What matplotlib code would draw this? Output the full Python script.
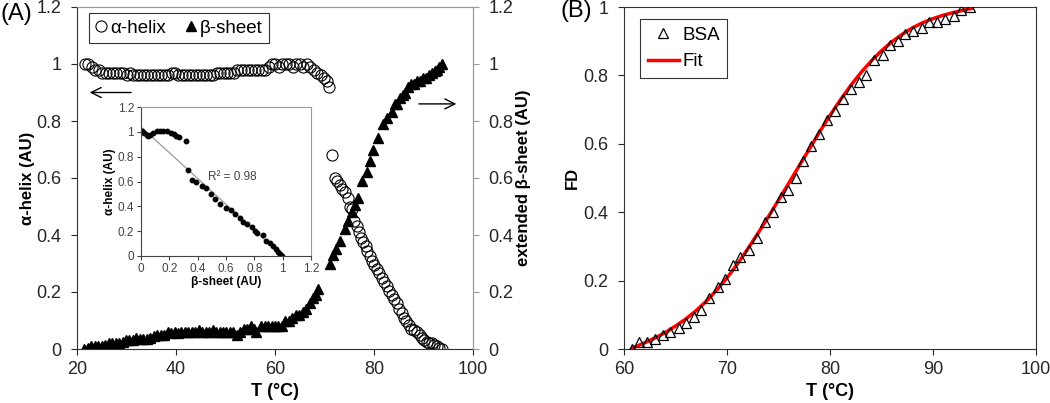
import numpy as np
import matplotlib
matplotlib.use('Agg')
import matplotlib.pyplot as plt

plt.rcParams['font.family'] = ['Liberation Sans', 'DejaVu Sans']

# ---- panel A: alpha-helix (open circles), T in C
helix_t1 = [21.6, 22.3, 23.0, 23.7, 24.4, 25.1, 25.8, 26.5, 27.2, 27.9, 28.6, 29.3, 30.0, 30.7,
            31.4, 32.1, 32.8, 33.5, 34.2, 34.9, 35.6, 36.3, 37.0, 37.7, 38.4, 39.1, 39.8, 40.5,
            41.2, 41.9, 42.6, 43.3, 44.0, 44.7, 45.4, 46.1, 46.8, 47.5, 48.2, 48.9, 49.6, 50.3,
            51.0, 51.7, 52.4, 53.1, 53.8, 54.5, 55.2, 55.9, 56.6, 57.3, 58.0, 58.7, 59.4, 60.1,
            60.8, 61.5, 62.2, 62.9, 63.6, 64.3, 65.0, 65.7, 66.4, 67.1, 67.8, 68.5, 69.2, 69.9,
            70.5, 71.0]
helix_v1 = [1.00, 1.00, 0.99, 0.98, 0.98, 0.97, 0.97, 0.97, 0.97, 0.97, 0.97, 0.97, 0.96, 0.97,
            0.96, 0.96, 0.96, 0.96, 0.96, 0.96, 0.96, 0.96, 0.96, 0.96, 0.96, 0.97, 0.97, 0.96,
            0.96, 0.96, 0.96, 0.96, 0.96, 0.96, 0.96, 0.96, 0.96, 0.96, 0.97, 0.97, 0.97, 0.97,
            0.97, 0.97, 0.98, 0.98, 0.98, 0.98, 0.98, 0.98, 0.98, 0.98, 0.98, 0.99, 1.00, 1.00,
            0.99, 1.00, 1.00, 1.00, 0.99, 1.00, 1.00, 0.99, 1.00, 0.99, 0.98, 0.97, 0.96, 0.95,
            0.94, 0.92]
helix_t2 = [71.5, 72.1, 72.6, 73.1, 73.6, 74.1, 74.7, 75.2, 75.5, 76.0, 76.5, 76.9, 77.4, 77.8,
            78.3, 78.6, 79.1, 79.6, 80.1, 80.6, 81.1, 81.6, 82.1, 82.6, 83.1, 83.6, 84.1, 84.6,
            85.1, 85.6, 86.0, 86.5, 87.0, 87.4, 88.0, 88.6, 89.2, 89.7, 90.2, 90.7, 91.2, 91.7,
            92.2, 92.7, 93.2, 93.7]
helix_v2 = [0.68, 0.60, 0.59, 0.575, 0.56, 0.55, 0.53, 0.50, 0.49, 0.45, 0.43, 0.41, 0.39, 0.375,
            0.36, 0.345, 0.325, 0.31, 0.295, 0.28, 0.265, 0.25, 0.235, 0.22, 0.205, 0.19, 0.175, 0.16,
            0.14, 0.125, 0.11, 0.10, 0.085, 0.07, 0.065, 0.06, 0.05, 0.04, 0.03, 0.025, 0.02, 0.02,
            0.015, 0.01, 0.005, 0.00]

# ---- panel A: beta-sheet (filled triangles)
sheet_t1 = [21.5, 22.2, 22.9, 23.6, 24.3, 25.0, 25.7, 26.4, 27.1, 27.8, 28.5, 29.2, 29.9, 30.6,
            31.3, 32.0, 32.7, 33.4, 34.1, 34.8, 35.5, 36.2, 36.9, 37.6, 38.3, 39.0, 39.7, 40.4,
            41.1, 41.8, 42.5, 43.2, 43.9, 44.6, 45.3, 46.0, 46.7, 47.4, 48.1, 48.8, 49.5, 50.2,
            50.9, 51.6, 52.3, 53.0, 53.7, 54.4, 55.1, 55.8, 56.2, 57.2, 57.9, 58.6, 59.3, 60.0,
            60.7, 61.4, 62.1, 62.8, 63.5, 64.2, 64.9, 65.6, 66.3, 67.0, 67.7, 68.2, 68.6]
sheet_v1 = [0.00, 0.005, 0.01, 0.01, 0.01, 0.01, 0.015, 0.02, 0.02, 0.02, 0.02, 0.025, 0.03, 0.03,
            0.03, 0.04, 0.035, 0.035, 0.035, 0.04, 0.045, 0.05, 0.05, 0.05, 0.06, 0.055, 0.06, 0.055,
            0.06, 0.06, 0.06, 0.06, 0.06, 0.065, 0.06, 0.06, 0.06, 0.065, 0.06, 0.06, 0.06, 0.06,
            0.06, 0.06, 0.05, 0.06, 0.07, 0.07, 0.08, 0.07, 0.06, 0.08, 0.08, 0.08, 0.08, 0.08,
            0.08, 0.08, 0.10, 0.10, 0.11, 0.12, 0.12, 0.13, 0.14, 0.16, 0.18, 0.19, 0.21]
sheet_t2 = [71.1, 71.7, 72.3, 73.1, 74.1, 74.7, 75.5, 76.2, 76.8, 77.6, 78.6, 79.2, 79.8, 80.8,
            81.8, 82.6, 83.6, 84.2, 84.6, 85.2, 85.8, 86.3, 86.9, 87.5, 88.1, 88.7, 89.3, 89.9,
            90.5, 91.1, 91.7, 92.3, 92.7, 93.2, 93.7]
sheet_v2 = [0.30, 0.33, 0.35, 0.38, 0.42, 0.45, 0.48, 0.505, 0.53, 0.59, 0.62, 0.66, 0.70, 0.74,
            0.79, 0.81, 0.83, 0.86, 0.86, 0.88, 0.89, 0.90, 0.92, 0.93, 0.93, 0.94, 0.94, 0.95,
            0.95, 0.96, 0.97, 0.975, 0.98, 0.99, 1.00]

# ---- inset: alpha-helix vs beta-sheet
inset_beta = [0.005, 0.02, 0.04, 0.05, 0.064, 0.087, 0.115, 0.135, 0.153, 0.18, 0.21, 0.23, 0.25,
              0.27, 0.32, 0.334, 0.357, 0.388, 0.428, 0.459, 0.494, 0.522, 0.557, 0.60, 0.633,
              0.663, 0.699, 0.722, 0.75, 0.781, 0.805, 0.821, 0.859, 0.882, 0.91, 0.934, 0.953,
              0.969, 0.98, 0.993]
inset_alpha = [1.01, 0.99, 0.976, 0.97, 0.976, 0.99, 1.01, 1.01, 1.01, 1.01, 0.99, 0.984, 0.97,
               0.957, 0.93, 0.694, 0.613, 0.597, 0.565, 0.546, 0.50, 0.457, 0.417, 0.39, 0.371,
               0.336, 0.309, 0.277, 0.255, 0.236, 0.204, 0.183, 0.169, 0.123, 0.102, 0.081, 0.054,
               0.035, 0.02, 0.0]
fit_beta = [0.0, 1.0]
fit_alpha = [1.04, 0.0]

# ---- panel B: BSA fraction denatured
bsa_t = [60.75, 61.5, 62.25, 63.0, 63.8, 64.5, 65.3, 66.0, 66.8, 67.5, 68.3, 69.1, 69.8, 70.6,
         71.3, 72.1, 72.9, 73.7, 74.5, 75.2, 75.9, 76.7, 77.4, 78.2, 78.9, 79.7, 80.5, 81.3,
         82.0, 82.8, 83.5, 84.3, 85.1, 85.8, 86.6, 87.3, 88.1, 88.9, 89.6, 90.4, 91.2, 92.0,
         92.7, 93.6]
bsa_fd = [0.0, 0.02, 0.02, 0.03, 0.04, 0.05, 0.06, 0.075, 0.095, 0.115, 0.15, 0.18, 0.205, 0.245,
          0.27, 0.29, 0.325, 0.37, 0.40, 0.445, 0.465, 0.50, 0.55, 0.595, 0.63, 0.67, 0.695, 0.73,
          0.76, 0.78, 0.80, 0.845, 0.86, 0.89, 0.90, 0.92, 0.93, 0.94, 0.955, 0.955, 0.965, 0.975,
          0.99, 1.0]
fit_t = [60.75, 61, 62, 63, 64, 65, 66, 67, 68, 69, 70, 71, 72, 73, 74, 75, 76, 77, 78, 79, 80,
         81, 82, 83, 84, 85, 86, 87, 88, 89, 90, 91, 92, 93, 93.75]
fit_fd = [0.0, 0.005, 0.018, 0.032, 0.048, 0.067, 0.088, 0.112, 0.140, 0.172, 0.208, 0.248, 0.292,
          0.338, 0.386, 0.435, 0.485, 0.535, 0.585, 0.635, 0.683, 0.728, 0.770, 0.808, 0.842,
          0.872, 0.898, 0.920, 0.939, 0.954, 0.966, 0.976, 0.984, 0.991, 0.996]

W, H = 1050, 403
fig = plt.figure(figsize=(W / 100, H / 100), dpi=100)


def box(l, t, r, b):
    return [l / W, 1 - b / H, (r - l) / W, (b - t) / H]


tick_fs = 13
lab_fs = 12
dark = '#262626'
grey = '#9a9a9a'
ticklabs = ['0', '0.2', '0.4', '0.6', '0.8', '1', '1.2']

# ================= panel A
ax1 = fig.add_axes(box(77, 7, 473, 349))
ax1.plot(helix_t1, helix_v1, 'o', mfc='none', mec='black', ms=8, mew=0.8, label='α-helix')
ax1.plot(helix_t2, helix_v2, 'o', mfc='none', mec='black', ms=8, mew=0.8)
ax1.plot(sheet_t1, sheet_v1, '^', color='black', ms=6.5, label='β-sheet')
ax1.plot(sheet_t2, sheet_v2, '^', color='black', ms=6.5)
ax1.set_xlim(20, 100)
ax1.set_ylim(0, 1.2)
ax1.set_xticks([20, 40, 60, 80, 100])
ax1.set_yticks(np.arange(0, 1.21, 0.2))
ax1.set_yticklabels(ticklabs)
ax1.tick_params(direction='out', length=4, labelsize=tick_fs, colors=dark, pad=7)
ax1.tick_params(axis='x', pad=5)
for s in ['left', 'bottom']:
    ax1.spines[s].set_color('#333333')
for s in ['top', 'right']:
    ax1.spines[s].set_color(grey)
ax1.set_xlabel('T (°C)', fontsize=13, fontweight='bold', labelpad=3)
ax1.set_ylabel('α-helix (AU)', fontsize=lab_fs, fontweight='bold', labelpad=1)

ax1r = ax1.twinx()
ax1r.set_ylim(0, 1.2)
ax1r.set_yticks(np.arange(0, 1.21, 0.2))
ax1r.set_yticklabels(ticklabs)
ax1r.tick_params(direction='out', length=4, labelsize=tick_fs, colors=grey, labelcolor=dark, pad=7)
for s in ['top', 'right']:
    ax1r.spines[s].set_color(grey)
ax1r.spines['left'].set_visible(False)
ax1r.spines['bottom'].set_visible(False)
ax1r.set_ylabel('extended β-sheet (AU)', fontsize=lab_fs, fontweight='bold', labelpad=2)

# direction arrows
ax1.annotate('', xy=(22.0, 0.90), xytext=(31.5, 0.90),
             arrowprops=dict(arrowstyle='->', color='black', lw=1.0, mutation_scale=18))
ax1.annotate('', xy=(97.2, 0.86), xytext=(88.5, 0.86),
             arrowprops=dict(arrowstyle='->', color='black', lw=1.0, mutation_scale=18))

leg = ax1.legend(loc='upper left', bbox_to_anchor=(89 / W, 1 - 13 / H), bbox_transform=fig.transFigure,
                 ncol=2, fontsize=13.5, frameon=True, fancybox=False, handlelength=0.6,
                 handletextpad=0.2, columnspacing=1.0, borderpad=0.35, borderaxespad=0)
leg.get_frame().set_edgecolor('black')
leg.get_frame().set_linewidth(0.8)

fig.text(1 / W, 1 - 3 / H, '(A)', fontsize=17, ha='left', va='top')

# ================= inset
ins = fig.add_axes(box(141, 107, 311, 256))
ins.plot(fit_beta, fit_alpha, color='#999999', lw=0.9)
ins.plot(inset_beta, inset_alpha, 'o', color='black', ms=3.2)
ins.set_xlim(0, 1.2)
ins.set_ylim(0, 1.2)
ins.set_xticks(np.arange(0, 1.21, 0.2))
ins.set_yticks(np.arange(0, 1.21, 0.2))
ins.set_xticklabels(ticklabs)
ins.set_yticklabels(ticklabs)
ins.tick_params(direction='out', length=3, labelsize=8.5, colors='#444444', pad=2)
for s in ['left', 'bottom']:
    ins.spines[s].set_color('#444444')
for s in ['top', 'right']:
    ins.spines[s].set_color(grey)
ins.set_xlabel('β-sheet (AU)', fontsize=8.5, fontweight='bold', labelpad=1)
ins.set_ylabel('α-helix (AU)', fontsize=8.5, fontweight='bold', labelpad=1)
ins.text(0.47, 0.64, 'R² = 0.98', fontsize=8.5, color='#444444', ha='left', va='center')

# ================= panel B
ax2 = fig.add_axes(box(624, 7, 1036, 349))
ax2.plot(fit_t, fit_fd, color='#ff0000', lw=2.5, label='Fit', zorder=2)
ax2.plot(bsa_t, bsa_fd, '^', mfc='none', mec='black', ms=6.5, mew=0.9, label='BSA', zorder=3)
ax2.set_xlim(60, 100)
ax2.set_ylim(0, 1)
ax2.set_xticks([60, 70, 80, 90, 100])
ax2.set_yticks(np.arange(0, 1.01, 0.2))
ax2.set_yticklabels(ticklabs[:6])
ax2.tick_params(direction='out', length=4, labelsize=tick_fs, colors=dark, pad=7)
ax2.tick_params(axis='x', pad=5)
for s in ax2.spines.values():
    s.set_color('#333333')
ax2.set_xlabel('T (°C)', fontsize=13, fontweight='bold', labelpad=3)
ax2.set_ylabel('FD', fontsize=lab_fs, fontweight='bold', labelpad=3)
h, l = ax2.get_legend_handles_labels()
leg2 = ax2.legend(h[::-1], l[::-1], loc='upper left', bbox_to_anchor=(640 / W, 1 - 19 / H),
                  bbox_transform=fig.transFigure, fontsize=13.5, frameon=True, fancybox=False,
                  handlelength=1.7, handletextpad=0.15, borderpad=0.4, borderaxespad=0,
                  labelspacing=0.5)
leg2.get_frame().set_edgecolor('black')
leg2.get_frame().set_linewidth(0.8)
fig.text(560 / W, 1 - 0 / H, '(B)', fontsize=17, ha='left', va='top')

fig.savefig('out.png', dpi=100)
